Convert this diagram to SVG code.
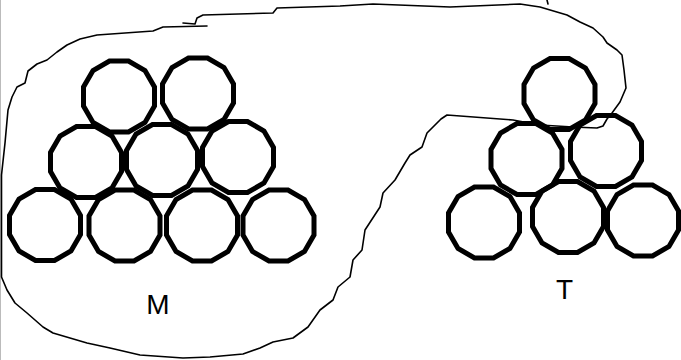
<svg xmlns="http://www.w3.org/2000/svg" xmlns:xlink="http://www.w3.org/1999/xlink" width="681" height="360" viewBox="0 0 681 360">
<style>
.ball{fill:none;stroke:#000;stroke-width:5;stroke-linejoin:miter}
.loop{fill:none;stroke:#000;stroke-width:1.6;stroke-linejoin:round;stroke-linecap:round}
.lbl{font-family:"Liberation Sans",Arial,sans-serif;font-size:28px;fill:#000;text-anchor:middle}
</style>
<defs>
<polygon id="dod" points="35.5,9.51 25.99,25.99 9.51,35.5 -9.51,35.5 -25.99,25.99 -35.5,9.51 -35.5,-9.51 -25.99,-25.99 -9.51,-35.5 9.51,-35.5 25.99,-25.99 35.5,-9.51"/>
</defs>
<rect width="681" height="360" fill="#fff"/>
<line x1="0.5" y1="0" x2="0.5" y2="360" stroke="#bbb" stroke-width="1"/>
<g id="connectors">
<path class="loop" d="M183,23 L195,24 L197,18 L203,15 L273,13 L277,8 L340,6 L373,4 L450,7 L520,4 L540,7 L567,15 L580,22 L593,28 L603,37 L607,43 L617,50 L622,55 L624,70 L626,88 L620,102 L612,113 L607,119 L603,126 L597,128 L573,127 L540,125 L513,120 L447,115 L441,119 L427,133 L422,147 L410,155 L405,163 L395,180 L383,193 L380,207 L365,230 L362,250 L353,260 L350,277 L338,287 L333,300 L320,310 L308,327 L293,338 L273,342 L260,348 L243,354 L210,357 L183,358 L140,355 L110,348 L87,343 L53,333 L43,327 L27,313 L15,303 L7,290 L1.5,277 L1.5,175 L5,143 L8,110 L12,97 L17,87 L25,83 L28,71 L37,64 L47,60 L57,52 L67,45 L80,39 L97,35 L153,31 L163,27 L207,26"/>
<path class="loop" d="M547,0 L548,4"/>
</g>
<g id="M1"><use xlink:href="#dod" class="ball" x="119" y="96.5"/></g>
<g id="M2"><use xlink:href="#dod" class="ball" x="198" y="93.5"/></g>
<g id="M3"><use xlink:href="#dod" class="ball" x="86" y="162"/></g>
<g id="M4"><use xlink:href="#dod" class="ball" x="162" y="160"/></g>
<g id="M5"><use xlink:href="#dod" class="ball" x="238" y="157"/></g>
<g id="M6"><use xlink:href="#dod" class="ball" x="45" y="225"/></g>
<g id="M7"><use xlink:href="#dod" class="ball" x="124.5" y="225.5"/></g>
<g id="M8"><use xlink:href="#dod" class="ball" x="202" y="225.5"/></g>
<g id="M9"><use xlink:href="#dod" class="ball" x="278.5" y="225.5"/></g>
<g id="T1"><use xlink:href="#dod" class="ball" x="559.5" y="94"/></g>
<g id="T2"><use xlink:href="#dod" class="ball" x="526.5" y="159"/></g>
<g id="T3"><use xlink:href="#dod" class="ball" x="606" y="151"/></g>
<g id="T4"><use xlink:href="#dod" class="ball" x="484" y="222.5"/></g>
<g id="T5"><use xlink:href="#dod" class="ball" x="568" y="217"/></g>
<g id="T6"><use xlink:href="#dod" class="ball" x="643" y="220.5"/></g>
<g id="labelM"><text class="lbl" x="158" y="314">M</text></g>
<g id="labelT"><text class="lbl" x="564.5" y="299">T</text></g>
</svg>
